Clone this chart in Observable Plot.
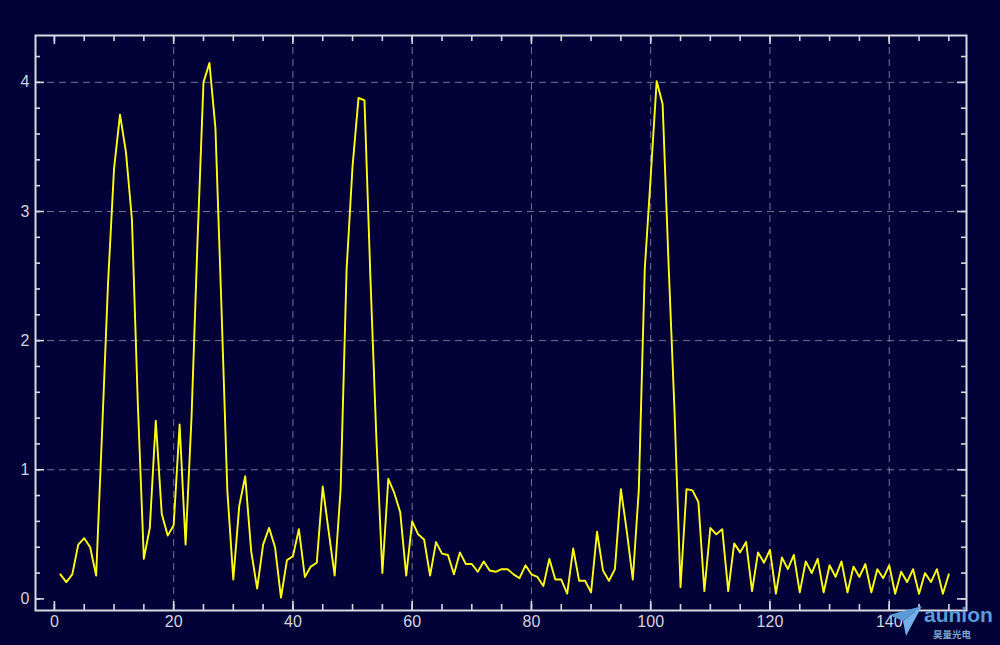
<!DOCTYPE html>
<html>
<head>
<meta charset="utf-8">
<script src="https://cdn.jsdelivr.net/npm/d3@7"></script>
<script src="https://cdn.jsdelivr.net/npm/@observablehq/plot@0.6"></script>
<style>
  html, body { margin: 0; padding: 0; background: #020238; }
  #wrap { position: relative; width: 1000px; height: 645px; }
  #logo { position: absolute; left: 889px; top: 601px; width: 108px; height: 42px; font-family: "Liberation Sans", Arial, sans-serif; }
  #logo .name { position: absolute; left: 35px; top: 6px; font-size: 21px; font-weight: bold; color: #5a9ad8; letter-spacing: 0px; line-height: 16px; }
  #logo .cn { position: absolute; left: 44px; top: 28px; font-size: 9.5px; color: #7fa6d0; font-family: "Noto Sans CJK SC", sans-serif; line-height: 10px; font-weight: bold; }
  #logo svg { position: absolute; left: 0; top: 2px; }
</style>
</head>
<body>
<div id="wrap">
  <div id="chart"></div>
  <div id="logo">
    <svg width="34" height="34" viewBox="0 0 34 34">
      <polygon points="0,12 33,3 14,18" fill="#5a9ad8"/>
      <polygon points="14,18 33,3 17,33" fill="#74b0e6"/>
    </svg>
    <div class="name">aunion</div>
    <div class="cn">昊量光电</div>
  </div>
</div>
<script>
// Signal amplitude, samples 1..150
const amplitude = [
  0.19, 0.13, 0.19, 0.42, 0.47, 0.40, 0.18, 1.30, 2.45, 3.33,
  3.75, 3.46, 2.94, 1.50, 0.31, 0.55, 1.38, 0.66, 0.49, 0.57,
  1.35, 0.42, 1.41, 2.77, 4.00, 4.15, 3.65, 2.28, 0.84, 0.15,
  0.72, 0.95, 0.37, 0.08, 0.42, 0.55, 0.40, 0.01, 0.30, 0.33,
  0.54, 0.17, 0.25, 0.28, 0.87, 0.52, 0.18, 0.85, 2.55, 3.35,
  3.88, 3.86, 2.48, 1.24, 0.20, 0.93, 0.82, 0.67, 0.18, 0.60,
  0.50, 0.46, 0.18, 0.44, 0.35, 0.34, 0.19, 0.36, 0.27, 0.27,
  0.21, 0.29, 0.22, 0.21, 0.23, 0.23, 0.19, 0.16, 0.26, 0.19,
  0.17, 0.10, 0.31, 0.15, 0.15, 0.04, 0.39, 0.14, 0.14, 0.05,
  0.52, 0.22, 0.14, 0.23, 0.85, 0.52, 0.15, 0.84, 2.55, 3.27,
  4.01, 3.83, 2.59, 1.45, 0.09, 0.85, 0.84, 0.75, 0.06, 0.55,
  0.50, 0.54, 0.06, 0.43, 0.36, 0.44, 0.06, 0.36, 0.28, 0.38,
  0.04, 0.32, 0.23, 0.34, 0.05, 0.29, 0.20, 0.31, 0.05, 0.26,
  0.17, 0.29, 0.05, 0.25, 0.17, 0.27, 0.05, 0.23, 0.16, 0.26,
  0.04, 0.21, 0.13, 0.23, 0.04, 0.20, 0.13, 0.23, 0.04, 0.19
];

const xMajorTicks = [0, 20, 40, 60, 80, 100, 120, 140];
const xMinorTicks = [0, 5, 10, 15, 20, 25, 30, 35, 40, 45, 50, 55, 60, 65, 70, 75,
                     80, 85, 90, 95, 100, 105, 110, 115, 120, 125, 130, 135, 140, 145, 150];
const xGrid = [20, 40, 60, 80, 100, 120, 140];
const yMajorTicks = [0, 1, 2, 3, 4];
const yMinorTicks = [0, 0.2, 0.4, 0.6, 0.8, 1, 1.2, 1.4, 1.6, 1.8, 2, 2.2, 2.4, 2.6, 2.8,
                     3, 3.2, 3.4, 3.6, 3.8, 4, 4.2];
const yGrid = [1, 2, 3, 4];

const W = 1000, H = 645, mL = 35, mR = 34, mT = 35, mB = 35;
const innerW = W - mL - mR, innerH = H - mT - mB;
const bg = "#020238", frameColor = "#d8d8e0", gridColor = "rgba(190,190,215,0.6)";
const labelColor = "#d4d4dc", lineColor = "#ffff10";
const majorLen = 9, minorLen = 5;

const data = amplitude.map((v, i) => ({sample: i + 1, value: v}));

const tickStyle = {stroke: frameColor, strokeWidth: 1.6};

const chart = Plot.plot({
  width: W, height: H,
  marginLeft: mL, marginRight: mR, marginTop: mT, marginBottom: mB,
  style: {background: bg, color: labelColor, fontFamily: "'Liberation Sans', Arial, sans-serif", fontSize: "16px"},
  x: {domain: [-3.17, 152.96]},
  y: {domain: [-0.09, 4.363]},
  marks: [
    Plot.ruleX(xGrid, {stroke: gridColor, strokeWidth: 1, strokeDasharray: "7,5"}),
    Plot.ruleY(yGrid, {stroke: gridColor, strokeWidth: 1, strokeDasharray: "7,5"}),
    Plot.line(data, {x: "sample", y: "value", stroke: lineColor, strokeWidth: 1.9}),
    // minor ticks (all four sides)
    Plot.ruleX(xMinorTicks, {...tickStyle, insetTop: innerH - minorLen - 1}),
    Plot.ruleX(xMinorTicks, {...tickStyle, insetBottom: innerH - minorLen - 1}),
    Plot.ruleY(yMinorTicks, {...tickStyle, insetRight: innerW - minorLen}),
    Plot.ruleY(yMinorTicks, {...tickStyle, insetLeft: innerW - minorLen}),
    // major ticks
    Plot.ruleX(xMajorTicks, {...tickStyle, insetTop: innerH - majorLen}),
    Plot.ruleX(xMajorTicks, {...tickStyle, insetBottom: innerH - majorLen}),
    Plot.ruleY(yMajorTicks, {...tickStyle, insetRight: innerW - majorLen}),
    Plot.ruleY(yMajorTicks, {...tickStyle, insetLeft: innerW - majorLen}),
    Plot.frame({stroke: frameColor, strokeWidth: 2}),
    Plot.axisX(xMajorTicks, {tickSize: 0, tickPadding: 5, label: null, fill: labelColor, fontSize: 16, tickFormat: d => String(d)}),
    Plot.axisY(yMajorTicks, {tickSize: 0, tickPadding: 6, label: null, fill: labelColor, fontSize: 16, tickFormat: d => String(d)})
  ]
});
document.getElementById("chart").appendChild(chart);
</script>
</body>
</html>
